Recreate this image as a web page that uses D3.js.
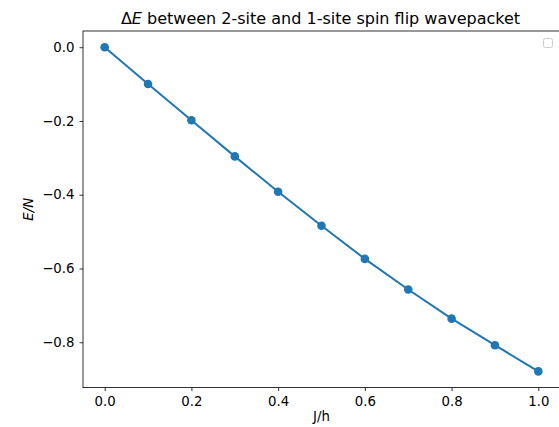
<!DOCTYPE html>
<html><head><meta charset="utf-8">
<script src="https://cdn.jsdelivr.net/npm/d3@7"></script>
<style>body{margin:0;background:#fff}svg{display:block}text{font-family:"DejaVu Sans",sans-serif}</style>
</head><body>
<svg id="c" width="559" height="427"></svg>
<script>
const jValues = [0.0, 0.1, 0.2, 0.3, 0.4, 0.5, 0.6, 0.7, 0.8, 0.9, 1.0];
const energyValues = [0.0, -0.0996, -0.198, -0.296, -0.392, -0.484, -0.574, -0.657, -0.736, -0.808, -0.879];
const xTicks = [0.0, 0.2, 0.4, 0.6, 0.8, 1.0];
const yTicks = [0.0, -0.2, -0.4, -0.6, -0.8];

const svg = d3.select("#c");
const L = 83, R = 560, T = 31, B = 387.6;
const x = d3.scaleLinear().domain([-0.05, 1.05]).range([L, R]);
const y = d3.scaleLinear().domain([0.04395, -0.92295]).range([T, B]);
const fmt = v => (v < 0 ? "\u2212" : "") + Math.abs(v).toFixed(1);

const xa = svg.append("g").attr("transform", `translate(0,${B})`)
  .call(d3.axisBottom(x).tickValues(xTicks).tickFormat(fmt).tickSize(3.5).tickPadding(5));
const ya = svg.append("g").attr("transform", `translate(${L},0)`)
  .call(d3.axisLeft(y).tickValues(yTicks).tickFormat(fmt).tickSize(3.5).tickPadding(5));
[xa, ya].forEach(a => {
  a.select(".domain").remove();
  a.selectAll("line").attr("stroke", "#000").attr("stroke-width", 0.8);
  a.selectAll("text").attr("font-size", 13.3).attr("fill", "#000").attr("font-family", "DejaVu Sans");
});
// spines
svg.append("rect").attr("x", L).attr("y", T).attr("width", R - L).attr("height", B - T)
  .attr("fill", "none").attr("stroke", "#000").attr("stroke-width", 0.8);

const line = d3.line().x((d, i) => x(jValues[i])).y(d => y(d));
svg.append("path").datum(energyValues).attr("d", line)
  .attr("fill", "none").attr("stroke", "#1f77b4").attr("stroke-width", 2);
svg.selectAll("circle.pt").data(energyValues).enter().append("circle")
  .attr("cx", (d, i) => x(jValues[i])).attr("cy", d => y(d)).attr("r", 4.3).attr("fill", "#1f77b4");

// empty legend
svg.append("rect").attr("x", 543.5).attr("y", 38.5).attr("width", 9).attr("height", 9).attr("rx", 2)
  .attr("fill", "#fff").attr("stroke", "#cccccc").attr("stroke-width", 1);

// title
const title = svg.append("text").attr("x", (L + R) / 2 - 1).attr("y", 24).attr("text-anchor", "middle")
  .attr("font-size", 16).attr("fill", "#000");
title.append("tspan").text("\u0394");
title.append("tspan").attr("font-style", "italic").text("E");
title.append("tspan").text(" between 2-site and 1-site spin flip wavepacket");

svg.append("text").attr("x", (L + R) / 2).attr("y", 421).attr("text-anchor", "middle")
  .attr("font-size", 13.3).attr("fill", "#000").text("J/h");
svg.append("text").attr("transform", `translate(33,${(T + B) / 2}) rotate(-90)`).attr("text-anchor", "middle")
  .attr("font-size", 13.3).attr("font-style", "italic").attr("fill", "#000").text("E/N");
</script>
</body></html>
